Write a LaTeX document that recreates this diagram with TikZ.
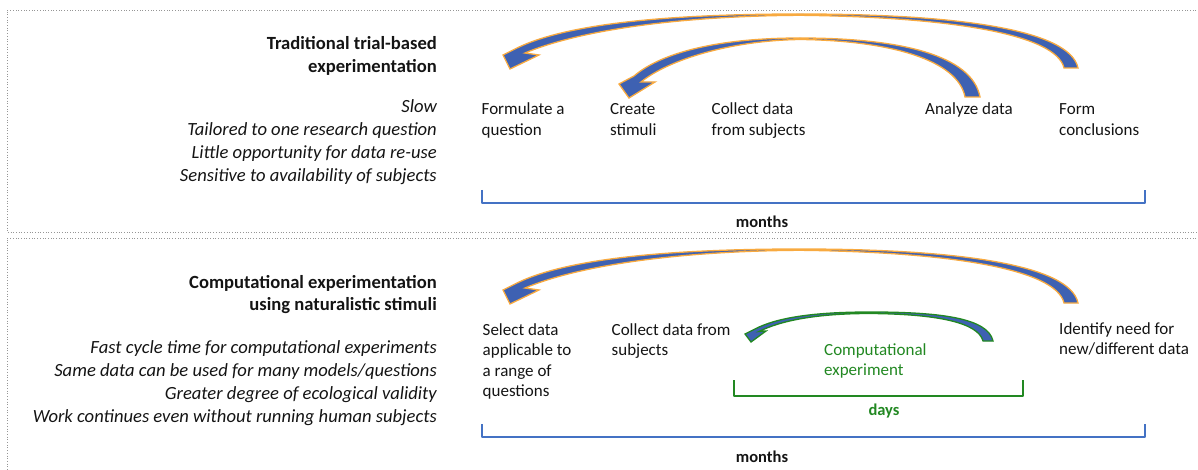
\documentclass[tikz,border=0pt]{standalone}
\usepackage{fontspec}
\setmainfont{Carlito}
\definecolor{arrowblue}{RGB}{62,97,178}
\definecolor{arroworange}{RGB}{248,170,64}
\definecolor{bracketblue}{RGB}{68,114,196}
\definecolor{expgreen}{RGB}{34,136,34}
\definecolor{boxgray}{RGB}{150,150,150}
\definecolor{txt}{RGB}{20,20,20}
\tikzset{
  boxline/.style={draw=boxgray, line width=0.7pt, dotted},
  bigarrow/.style={fill=arrowblue, draw=arroworange, line width=1.3pt, line join=miter},
  greenarrow/.style={fill=arrowblue, draw=expgreen, line width=1.3pt, line join=miter},
  bracket/.style={draw=bracketblue, line width=2.6pt, line join=round},
  gbracket/.style={draw=expgreen, line width=2.6pt, line join=round},
  steplabel/.style={anchor=base west, align=left, inner sep=0pt, text=txt,
    font=\fontsize{17}{20.5}\selectfont},
  sidetitle/.style={anchor=base east, align=right, inner sep=0pt, text=txt,
    font=\fontsize{18.6}{22.5}\selectfont\bfseries},
  sideprops/.style={anchor=base east, align=right, inner sep=0pt, text=txt,
    font=\fontsize{18.6}{23}\selectfont\itshape},
  spanlabel/.style={anchor=base, inner sep=0pt, font=\fontsize{16.5}{20}\selectfont\bfseries}
}
\begin{document}
\begin{tikzpicture}[x=1pt,y=-1pt]
\useasboundingbox (0,0) rectangle (1198,470);

% dotted panels
\draw[boxline] (1215,10) -- (7,10) -- (7,232) -- (1215,232);
\draw[boxline] (1215,238) -- (7,238) -- (7,480);

% ---------- panel 1 ----------
% (anchor = baseline of the last line)
\node[sidetitle] (title1) at (437,72.5) {Traditional trial-based\\experimentation};
\node[sideprops] (props1) at (437,182) {Slow\\Tailored to one research question\\Little opportunity for data re-use\\Sensitive to availability of subjects};

\node[steplabel] (formulate) at (481.5,135.5) {Formulate a\\question};
\node[steplabel] (create) at (610,135.5) {Create\\stimuli};
\node[steplabel] (collect1) at (711.5,135.5) {Collect data\\from subjects};
\node[steplabel] (analyze) at (925,115) {Analyze data};
\node[steplabel] (form) at (1059,135.5) {Form\\conclusions};

% outer arrow (conclusions -> question)
\path[bigarrow] (1078,68) .. controls (1070,30) and (960,14) .. (800,14)
  .. controls (680,14) and (570,22) .. (517,48)
  -- (503,55) -- (510,69) -- (539,55) -- (525,53)
  .. controls (580,30) and (680,16) .. (800,15.3)
  .. controls (950,17) and (1056,34) .. (1064,68) -- cycle;
% inner arrow (analyze -> create stimuli)
\path[bigarrow] (980,97) .. controls (972,55) and (900,38) .. (800,38)
  .. controls (720,38) and (662,52) .. (634,76)
  -- (619,84) -- (629,98) -- (655,82) -- (641,82)
  .. controls (668,60) and (730,40.5) .. (800,39.5)
  .. controls (890,40.5) and (958,60) .. (965,97) -- cycle;

\draw[bracket] (482,190) -- (482,203) -- (1145,203) -- (1145,190);
\node[spanlabel, text=txt] (months1) at (762,227.5) {months};

% ---------- panel 2 ----------
\node[sidetitle] (title2) at (437,310.5) {Computational experimentation\\using naturalistic stimuli};
\node[sideprops] (props2) at (437,422) {Fast cycle time for computational experiments\\Same data can be used for many models/questions\\Greater degree of ecological validity\\Work continues even without running human subjects};

\node[steplabel] (select) at (482.5,396.5) {Select data\\applicable to\\a range of\\questions};
\node[steplabel] (collect2) at (611.5,355.5) {Collect data from\\subjects};
\node[steplabel] (identify) at (1059,354.5) {Identify need for\\new/different data};
\node[steplabel, text=expgreen] (compexp) at (824,375.5) {Computational\\experiment};

\begin{scope}[shift={(0,235)}]
\path[bigarrow] (1078,68) .. controls (1070,30) and (960,14) .. (800,14)
  .. controls (680,14) and (570,22) .. (517,48)
  -- (503,55) -- (510,69) -- (539,55) -- (525,53)
  .. controls (580,30) and (680,16) .. (800,15.3)
  .. controls (950,17) and (1056,34) .. (1064,68) -- cycle;
\end{scope}

\path[greenarrow] (993,341) .. controls (988,318) and (940,312) .. (870,312)
  .. controls (812,312) and (776,318) .. (755,329)
  -- (745,334) -- (751,342) -- (766,331) -- (759,331.5)
  .. controls (780,321) and (815,313.5) .. (870,313.5)
  .. controls (935,314) and (978,322) .. (983,341) -- cycle;

\draw[gbracket] (734,380) -- (734,396) -- (1023,396) -- (1023,380);
\node[spanlabel, text=expgreen] (days) at (884,415) {days};

\draw[bracket] (482,424) -- (482,437) -- (1145,437) -- (1145,424);
\node[spanlabel, text=txt] (months2) at (762,462) {months};
\end{tikzpicture}
\end{document}
